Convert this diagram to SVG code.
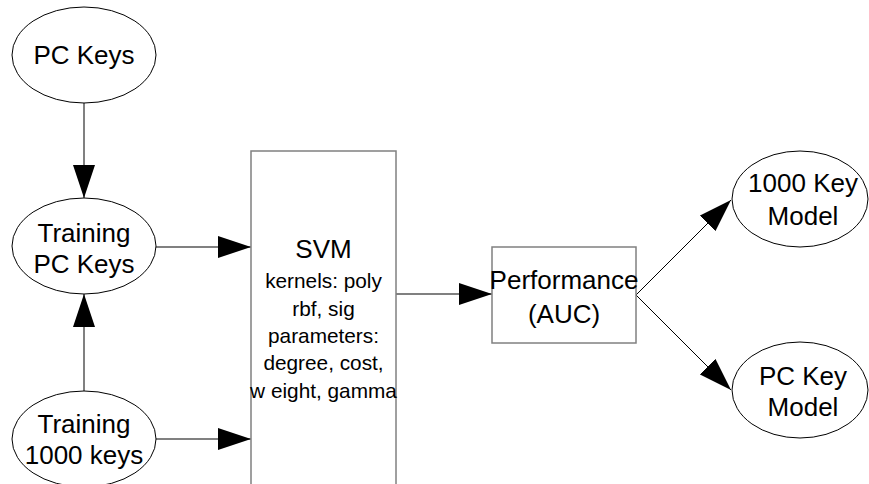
<svg xmlns="http://www.w3.org/2000/svg" width="869" height="484" viewBox="0 0 869 484">
<style>
.bg{fill:#ffffff}
.ell{fill:#ffffff;stroke:#000000;stroke-width:1}
.box{fill:#ffffff;stroke:#808080;stroke-width:1.5}
.t{font-family:"Liberation Sans",Arial,sans-serif;font-size:26px;fill:#000000;text-anchor:middle}
.s{font-family:"Liberation Sans",Arial,sans-serif;font-size:20.8px;fill:#000000;text-anchor:middle}
.c1{stroke:#808080;stroke-width:2;fill:none;marker-end:url(#ah)}
.c2{stroke:#000000;stroke-width:1;fill:none;marker-end:url(#ah)}
</style>
<defs>
<marker id="ah" markerUnits="userSpaceOnUse" markerWidth="33" markerHeight="22" refX="33" refY="11" orient="auto">
<path d="M0,0 L33,11 L0,22 Z" fill="#000000"/>
</marker>
</defs>
<rect class="bg" x="0" y="0" width="869" height="484"/>
<g id="connectors">
<line class="c1" x1="84" y1="103" x2="84" y2="198"/>
<line class="c1" x1="84" y1="391" x2="84" y2="294"/>
<line class="c1" x1="156" y1="247" x2="251" y2="247"/>
<line class="c1" x1="156" y1="439" x2="251" y2="439"/>
<line class="c1" x1="396" y1="294" x2="492" y2="294"/>
<line class="c2" x1="636" y1="295" x2="731" y2="200"/>
<line class="c2" x1="636" y1="295" x2="731" y2="390"/>
</g>
<g id="pc-keys">
<ellipse class="ell" cx="84" cy="55" rx="72" ry="48"/>
<text class="t" x="84" y="64">PC Keys</text>
</g>
<g id="training-pc-keys">
<ellipse class="ell" cx="84" cy="246" rx="72" ry="48"/>
<text class="t" x="84" y="242">Training</text>
<text class="t" x="84" y="273">PC Keys</text>
</g>
<g id="training-1000-keys">
<ellipse class="ell" cx="84" cy="439" rx="72" ry="48"/>
<text class="t" x="84" y="433">Training</text>
<text class="t" x="84" y="464">1000 keys</text>
</g>
<g id="svm">
<rect class="box" x="251" y="151" width="145" height="345"/>
<text class="t" x="323.5" y="258">SVM</text>
<text class="s" x="323.5" y="288">kernels: poly</text>
<text class="s" x="323.5" y="316">rbf, sig</text>
<text class="s" x="323.5" y="343">parameters:</text>
<text class="s" x="323.5" y="370">degree, cost,</text>
<text class="s" x="323.5" y="398">w eight, gamma</text>
</g>
<g id="performance">
<rect class="box" x="492" y="247" width="144" height="96"/>
<text class="t" x="564" y="289">Performance</text>
<text class="t" x="564" y="323">(AUC)</text>
</g>
<g id="model-1000">
<ellipse class="ell" cx="800" cy="199" rx="68" ry="48"/>
<text class="t" x="803" y="192">1000 Key</text>
<text class="t" x="803" y="225">Model</text>
</g>
<g id="model-pc">
<ellipse class="ell" cx="800" cy="390" rx="68" ry="48"/>
<text class="t" x="803" y="385">PC Key</text>
<text class="t" x="803" y="416">Model</text>
</g>
</svg>
